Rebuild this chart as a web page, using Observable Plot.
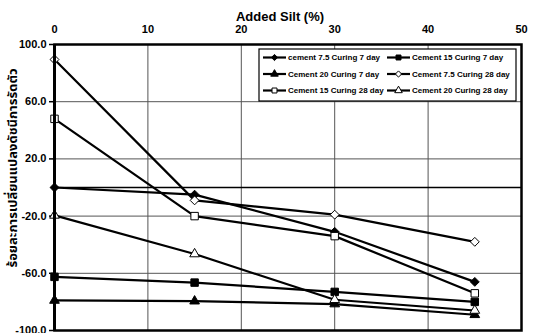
<!DOCTYPE html>
<html><head><meta charset="utf-8">
<script src="https://cdn.jsdelivr.net/npm/d3@7"></script>
<script src="https://cdn.jsdelivr.net/npm/@observablehq/plot@0.6"></script>
<style>
body{margin:0;background:#fff;}
#wrap{position:relative;width:545px;height:333px;font-family:"Liberation Sans",Arial,sans-serif;}
</style>
</head><body><div id="wrap"></div>
<script>
const silt = [0, 15, 30, 45];
const seriesNames = ["cement 7.5 Curing 7 day","Cement 15 Curing 7 day","Cement 20 Curing 7 day","Cement 7.5 Curing 28 day","Cement 15 Curing 28 day","Cement 20 Curing 28 day"];
const c75_7  = [0, -5, -31, -66];
const c15_7  = [-62.5, -66.5, -73, -80];
const c20_7  = [-79, -79.5, -81.5, -89];
const c75_28 = [89.5, -9, -19, -38];
const c15_28 = [48, -20, -34, -74];
const c20_28 = [-19.5, -46.5, -78.5, -86];
const xTicks = [0, 10, 20, 30, 40, 50];
const yTicks = [-100, -60, -20, 20, 60, 100];
const xTitle = "Added Silt (%)";
const yTitle = "ร้อยละการเปลี่ยนแปลงดัชนีการรัดตัว";

const values = [c75_7, c15_7, c20_7, c75_28, c15_28, c20_28];
const symbols = [d3.symbolDiamond2, d3.symbolSquare, d3.symbolTriangle, d3.symbolDiamond2, d3.symbolSquare, d3.symbolTriangle];
const fills = ["black","black","black","white","white","white"];
const sizes = [4.0, 4.2, 3.6, 4.0, 4.2, 3.6];

const data = [];
seriesNames.forEach((s,i)=>silt.forEach((x,j)=>data.push({series:s, idx:i, x, y:values[i][j]})));

const marks = [
  Plot.gridX([10,20,30,40], {stroke:"#555", strokeOpacity:1, strokeWidth:1}),
  Plot.gridY(yTicks, {stroke:"#555", strokeOpacity:1, strokeWidth:1}),
  Plot.ruleY([0], {stroke:"black", strokeWidth:1.5}),
  Plot.axisX(xTicks, {anchor:"top", tickSize:0, tickPadding:12, fontSize:11, fontWeight:"bold", label:null}),
  Plot.axisY(yTicks, {anchor:"left", tickSize:5, tickPadding:3, tickFormat:d=>d.toFixed(1), fontSize:11, fontWeight:"bold", label:null, strokeWidth:1.5}),
  Plot.line(data, {x:"x", y:"y", z:"series", stroke:"black", strokeWidth:2.2}),
];
seriesNames.forEach((s,i)=>{
  marks.push(Plot.dot(data.filter(d=>d.idx===i), {x:"x", y:"y", symbol:symbols[i], r:sizes[i], fill:fills[i], stroke:"black", strokeWidth:1}));
});
marks.push(Plot.ruleX([0], {stroke:"black", strokeWidth:3}));
marks.push(Plot.frame({stroke:"black", strokeWidth:2.5}));

const chart = Plot.plot({
  width:545, height:333,
  marginLeft:54, marginRight:24, marginTop:44, marginBottom:3,
  style:{fontFamily:'"Liberation Sans",Arial,sans-serif', background:"white", color:"black"},
  x:{domain:[0,50]},
  y:{domain:[-100,100]},
  marks
});
document.getElementById("wrap").appendChild(chart);

const svg = d3.select(chart);
// x title
svg.append("text").attr("x",280).attr("y",21).attr("text-anchor","middle")
  .attr("font-size",13).attr("font-weight","bold").attr("fill","black").text(xTitle);
// y title
svg.append("text").attr("transform","translate(17,168) rotate(-90)").attr("text-anchor","middle")
  .attr("font-size",13).attr("font-weight","bold").attr("fill","black")
  .attr("font-family",'"Noto Sans Thai","Noto Sans","DejaVu Sans",sans-serif').text(yTitle);
// legend
const lg = svg.append("g").attr("text-anchor","start");
lg.append("rect").attr("x",259).attr("y",49).attr("width",257).attr("height",52)
  .attr("fill","white").attr("stroke","black").attr("stroke-width",1.2);
const colX=[263,387], rowY=[57.5,74,90.5];
seriesNames.forEach((s,i)=>{
  const cx=colX[i%2], cy=rowY[Math.floor(i/2)];
  lg.append("line").attr("x1",cx).attr("x2",cx+23).attr("y1",cy).attr("y2",cy).attr("stroke","black").attr("stroke-width",2.2);
  lg.append("path").attr("transform",`translate(${cx+11.5},${cy})`)
    .attr("d",d3.symbol(symbols[i], Math.PI*2.8*2.8)()).attr("fill",fills[i]).attr("stroke","black").attr("stroke-width",1);
  lg.append("text").attr("x",cx+25).attr("y",cy).attr("dy","0.35em").attr("text-anchor","start")
    .attr("font-size",8).attr("font-weight","bold").attr("fill","black").text(s);
});
</script>
</body></html>
